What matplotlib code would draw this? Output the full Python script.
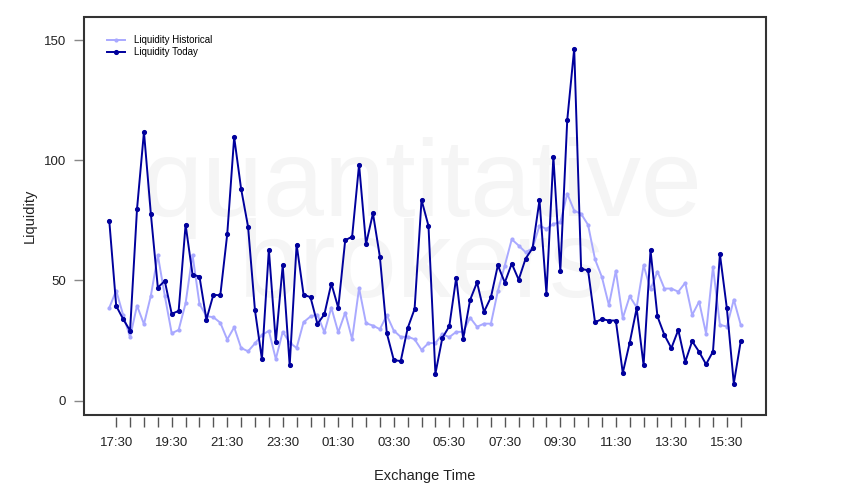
import matplotlib
matplotlib.use("Agg")
import matplotlib.pyplot as plt
from matplotlib.patches import Rectangle

plt.rcParams['font.family'] = ['Liberation Sans', 'DejaVu Sans']

# Time slots every 15 minutes from 17:15 to 16:00 (next day)
start_minutes = 17 * 60 + 15
n_points = 92
times = [((start_minutes + 15 * i) % 1440) for i in range(n_points)]
time_labels = ["%02d:%02d" % (t // 60, t % 60) for t in times]

liquidity_today = [
    74.9, 39.4, 33.9, 29.1, 79.7, 111.8, 77.5, 47.0, 49.8, 36.1,
    37.3, 73.2, 52.4, 51.6, 33.7, 44.0, 43.8, 69.2, 109.6, 88.1,
    72.4, 37.5, 17.2, 62.8, 24.3, 56.4, 14.6, 64.9, 44.1, 43.0,
    31.9, 35.9, 48.7, 38.6, 66.7, 68.2, 98.2, 65.1, 77.9, 59.8,
    28.0, 16.9, 16.4, 30.1, 38.1, 83.5, 72.7, 11.2, 26.1, 30.9,
    51.2, 25.7, 41.9, 49.2, 36.9, 43.0, 56.3, 49.1, 57.0, 50.3,
    59.1, 63.4, 83.4, 44.5, 101.5, 53.8, 116.8, 146.4, 54.8, 54.2,
    32.6, 33.9, 33.3, 33.3, 11.5, 24.1, 38.4, 14.7, 62.6, 35.0,
    27.3, 21.8, 29.4, 16.1, 24.7, 20.3, 15.1, 20.4, 60.9, 38.4,
    7.1, 24.7,
]

liquidity_historical = [
    38.6, 45.8, 35.6, 26.4, 39.5, 31.8, 43.7, 60.5, 43.6, 28.0,
    29.4, 40.5, 60.6, 40.2, 35.1, 34.7, 32.4, 25.4, 30.5, 21.9,
    20.5, 23.8, 27.3, 29.0, 17.3, 28.6, 24.1, 21.9, 32.6, 35.0,
    35.8, 28.4, 38.7, 28.4, 36.6, 25.5, 46.8, 32.2, 31.2, 29.7,
    35.5, 29.1, 26.5, 26.6, 25.5, 21.1, 23.9, 23.9, 27.6, 26.4,
    28.6, 28.6, 34.5, 30.7, 32.0, 32.0, 45.6, 56.2, 67.1, 64.5,
    61.7, 63.4, 72.8, 71.4, 73.5, 74.2, 86.1, 79.0, 77.7, 73.1,
    58.8, 51.3, 39.7, 54.0, 34.3, 43.4, 38.8, 56.3, 46.3, 53.7,
    46.6, 46.6, 45.3, 49.0, 35.6, 41.2, 27.9, 55.7, 31.5, 30.8,
    42.0, 31.5,
]

x = list(range(n_points))

fig = plt.figure(figsize=(8.5, 5), dpi=100)
ax = fig.add_axes([84 / 850, 1 - 415 / 500, 682 / 850, 398 / 500])

# watermark (single two-line text)
ax.text(0.496, 0.2965, "quantitative\nbrokers", transform=ax.transAxes,
        ha='center', va='baseline', multialignment='center', linespacing=0.74,
        fontsize=79, color='#f5f5f5', zorder=0)

ax.plot(x, liquidity_historical, color='#a9a9ff', lw=1.4, marker='o',
        markersize=2.0, label='Liquidity Historical', zorder=2)
ax.plot(x, liquidity_today, color='#00009c', lw=1.4, marker='o',
        markersize=2.7, label='Liquidity Today', zorder=3)

ax.set_xlim(-3.64, 94.64)
ax.set_ylim(-6.0, 159.6)

# ticks
major = list(range(1, n_points, 2))
ax.set_xticks(major)
ax.set_xticklabels([time_labels[i] if (i - 1) % 8 == 0 else '' for i in major])
ax.set_yticks([0, 50, 100, 150])

for s in ax.spines.values():
    s.set_visible(False)
ax.spines['bottom'].set_position(('outward', 1.7))

box = Rectangle((0, 0), 1, 1, transform=ax.transAxes, fill=False,
                edgecolor='#333333', lw=1.5, zorder=5, clip_on=False)
ax.add_patch(box)

ax.tick_params(axis='x', direction='out', length=7.3, width=1.0,
               color='#555555', pad=6.5, labelsize=9.5, labelcolor='#222222')
ax.tick_params(axis='y', direction='out', length=7, width=1.0,
               color='#888888', pad=6, labelsize=9.5, labelcolor='#222222')

ax.set_xlabel("Exchange Time", fontsize=10.5, color='#222222', labelpad=14.5)
ax.set_ylabel("Liquidity", fontsize=10.5, color='#222222', labelpad=5)

leg = ax.legend(loc='upper left', bbox_to_anchor=(0.033, 0.955), frameon=False,
                fontsize=7, handlelength=1.9, handletextpad=0.9,
                borderpad=0, borderaxespad=0, labelspacing=0.25)

fig.savefig("out.png", dpi=100)
